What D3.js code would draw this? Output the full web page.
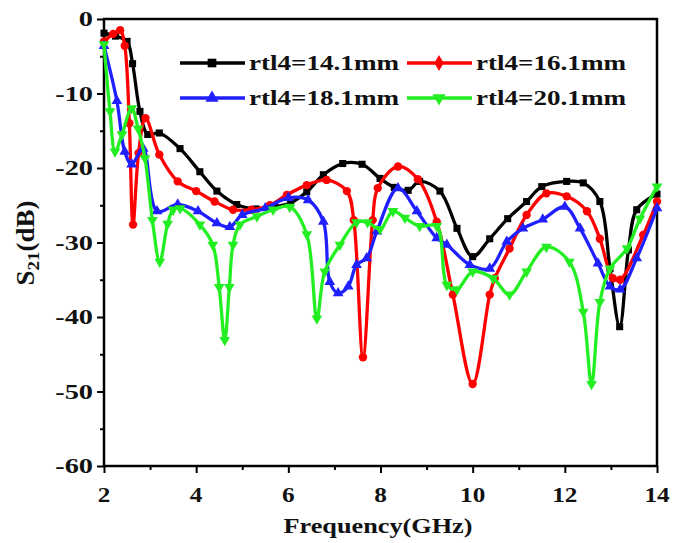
<!DOCTYPE html>
<html><head><meta charset="utf-8">
<script src="https://cdn.jsdelivr.net/npm/d3@7"></script>
<style>body{margin:0;background:#fff}svg{display:block}text{font-family:"Liberation Serif","Times New Roman",serif;font-weight:bold;fill:#111}</style>
</head><body><svg id="c" width="684" height="543"></svg>
<script>
const freqTicks = [2,4,6,8,10,12,14];
const dbTicks = [0,-10,-20,-30,-40,-50,-60];
const seriesNames = ["rtl4=14.1mm","rtl4=16.1mm","rtl4=18.1mm","rtl4=20.1mm"];
const seriesColors = ["#000000","#ff0000","#1f1fff","#22ee22"];

const s141 = [[2.0,-1.9],[2.25,-2.3],[2.5,-3.0],[2.62,-6],[2.78,-12.4],[2.95,-15.5],[3.2,-15.3],[3.65,-17.4],[4.08,-20.5],[4.45,-23.1],[4.88,-24.9],[5.3,-25.5],[5.7,-25.2],[6.05,-24.7],[6.4,-23.2],[6.76,-20.9],[7.18,-19.4],[7.6,-19.5],[7.99,-21.4],[8.3,-22.6],[8.6,-23.0],[8.85,-21.8],[9.29,-23.1],[9.66,-28.1],[10.0,-31.9],[10.37,-29.5],[10.76,-26.8],[11.17,-24.5],[11.5,-22.5],[12.04,-21.8],[12.4,-22],[12.76,-24.5],[12.98,-33.5],[13.19,-41.3],[13.38,-31],[13.56,-25.6],[14.0,-23.5]];
const s161 = [[2.0,-3.0],[2.2,-2.0],[2.35,-1.5],[2.45,-3.6],[2.55,-14],[2.63,-27.6],[2.75,-18],[2.9,-13.3],[3.2,-18.2],[3.6,-21.8],[4.0,-23.1],[4.4,-24.5],[4.8,-25.6],[5.2,-25.6],[5.6,-25.0],[5.97,-23.6],[6.4,-22.3],[6.83,-21.6],[7.27,-23.1],[7.42,-27],[7.62,-45.4],[7.83,-27],[7.94,-22.7],[8.38,-19.8],[8.81,-21.5],[9.22,-27.2],[9.57,-37],[10.0,-49],[10.37,-37],[10.48,-34.8],[10.8,-30.8],[11.17,-26.3],[11.6,-23.4],[12.04,-23.8],[12.48,-25.8],[12.76,-29.5],[13.04,-34.8],[13.2,-35],[13.7,-29],[14.0,-24.5]];
const s181 = [[2.0,-3.6],[2.28,-11],[2.45,-17.8],[2.6,-19.5],[2.85,-17.4],[3.15,-25.8],[3.6,-24.9],[4.04,-25.8],[4.45,-27.4],[4.73,-27.9],[5.0,-26.3],[5.5,-25.4],[6.0,-24],[6.43,-24.3],[6.76,-27.2],[6.9,-35.3],[7.08,-36.8],[7.3,-35.9],[7.48,-33],[7.7,-32.1],[7.92,-28.5],[8.38,-22.7],[8.79,-25.8],[9.22,-29.4],[9.44,-30.3],[9.94,-33],[10.37,-33.5],[10.74,-29.9],[11.09,-28.1],[11.52,-26.9],[12.0,-25.2],[12.33,-28.1],[12.72,-32.8],[12.98,-35.9],[13.2,-36.3],[13.56,-32.1],[14.0,-25.4]];
const s201 = [[2.0,-3.4],[2.13,-12.4],[2.24,-17.8],[2.39,-15.5],[2.6,-12],[2.74,-14.7],[2.89,-18.7],[3.05,-27],[3.21,-32.6],[3.38,-27.5],[3.5,-25.6],[3.65,-25.4],[4.08,-27.6],[4.36,-30.3],[4.5,-36],[4.62,-43.1],[4.72,-36],[4.8,-30.3],[4.95,-27.6],[5.32,-26.5],[5.67,-25.6],[6.03,-25.2],[6.4,-28.9],[6.62,-40.2],[6.79,-33.9],[7.12,-30.3],[7.48,-27.3],[7.72,-27.3],[7.99,-28.2],[8.27,-25.8],[8.53,-26.7],[8.85,-27.8],[9.22,-27.8],[9.44,-35.7],[9.66,-36.3],[10.0,-33.9],[10.44,-34.8],[10.8,-37],[11.17,-33.9],[11.6,-30.6],[12.1,-32.6],[12.4,-39.3],[12.58,-49],[12.76,-38],[12.98,-33.5],[13.35,-30.8],[13.63,-26.8],[14.0,-22.5]];
const seriesData = [s141, s161, s181, s201];
const symbols = [d3.symbolSquare, d3.symbolCircle, d3.symbolTriangle, d3.symbolTriangle];
const symRot = [0,0,0,180];

const svg = d3.select("#c");
const L=104, R=657, T=19, B=466;
const x = d3.scaleLinear().domain([2,14]).range([L,R]);
const y = d3.scaleLinear().domain([-60,0]).range([B,T]);

svg.append("rect").attr("x",L).attr("y",T).attr("width",R-L).attr("height",B-T)
  .attr("fill","none").attr("stroke","#000").attr("stroke-width",2.5);

const xa = svg.append("g").attr("transform",`translate(0,${B})`)
  .call(d3.axisBottom(x).tickValues(d3.range(2,14.01,1)).tickSize(0).tickFormat(""));
xa.select(".domain").remove();
xa.selectAll(".tick line").attr("y2",d=>d%2===0?7:4).attr("stroke","#000").attr("stroke-width",2);
freqTicks.forEach(f=>{
  svg.append("g").attr("transform",`translate(${x(f)},${B+36}) scale(1.2,1)`)
    .append("text").attr("text-anchor","middle").attr("font-size",21).text(f);
});
const ya = svg.append("g").attr("transform",`translate(${L},0)`)
  .call(d3.axisLeft(y).tickValues(d3.range(-60,0.01,5)).tickSize(0).tickFormat(""));
ya.select(".domain").remove();
ya.selectAll(".tick line").attr("x2",d=>d%10===0?-7:-4).attr("stroke","#000").attr("stroke-width",2);
dbTicks.forEach(v=>{
  svg.append("g").attr("transform",`translate(${L-11},${y(v)+7}) scale(1.35,1)`)
    .append("text").attr("text-anchor","end").attr("font-size",21).text(v);
});

svg.append("g").attr("transform",`translate(378,533) scale(1.25,1)`)
  .append("text").attr("text-anchor","middle").attr("font-size",21).text("Frequency(GHz)");
const yl = svg.append("g").attr("transform",`translate(34,243) rotate(-90) scale(1.35,1.25)`)
  .append("text").attr("text-anchor","middle").attr("font-size",20);
yl.append("tspan").text("S");
yl.append("tspan").attr("font-size",14).attr("dy",4).text("21");
yl.append("tspan").attr("dy",-4).text("(dB)");

const line = d3.line().x(d=>x(d[0])).y(d=>y(d[1])).curve(d3.curveCatmullRom.alpha(0.5));
const plot = svg.append("g");
seriesData.forEach((data,i)=>{
  plot.append("path").datum(data).attr("d",line).attr("fill","none")
    .attr("stroke",seriesColors[i]).attr("stroke-width",3.3).attr("stroke-linejoin","round");
  plot.selectAll(null).data(data).enter().append("path")
    .attr("d",d3.symbol().type(symbols[i]).size(i===1?55:50))
    .attr("transform",d=>`translate(${x(d[0])},${y(d[1])}) rotate(${symRot[i]})`)
    .attr("fill",seriesColors[i]);
});

const legPos = [[180,63],[407,63],[180,98],[407,98]];
seriesNames.forEach((n,i)=>{
  const [lx,ly]=legPos[i];
  svg.append("line").attr("x1",lx).attr("x2",lx+65).attr("y1",ly).attr("y2",ly)
    .attr("stroke",seriesColors[i]).attr("stroke-width",3.5);
  svg.append("path").attr("d",d3.symbol().type(i===1?d3.symbolDiamond:symbols[i]).size(75))
    .attr("transform",`translate(${lx+32},${ly}) rotate(${symRot[i]})`).attr("fill",seriesColors[i]);
  svg.append("g").attr("transform",`translate(${lx+69},${ly+7}) scale(1.29,1)`)
    .append("text").attr("font-size",21).text(n);
});
</script></body></html>
